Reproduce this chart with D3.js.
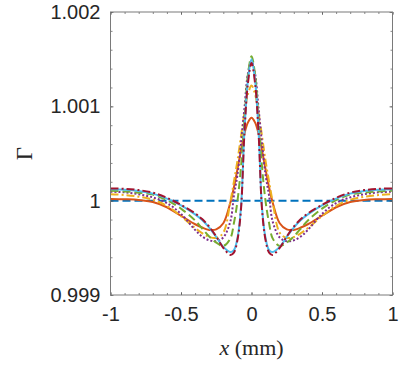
<!DOCTYPE html>
<html>
<head>
<meta charset="utf-8">
<script src="https://cdn.jsdelivr.net/npm/d3@7"></script>
<style>
  html, body { margin: 0; padding: 0; background: #fff; }
  svg { display: block; }
  .tick text { font-family: 'Liberation Sans', Arial, sans-serif; fill: #262626; }
  .lbl { font-family: 'Liberation Serif', 'DejaVu Serif', serif; fill: #262626; }
</style>
</head>
<body>
<script>
// x positions (mm) shared by the curved series
const xs = [-1, -0.9, -0.8, -0.7, -0.6, -0.5, -0.4, -0.35, -0.3, -0.25, -0.2, -0.15, -0.125, -0.1, -0.075, -0.05, -0.025,
  0, 0.025, 0.05, 0.075, 0.1, 0.125, 0.15, 0.2, 0.25, 0.3, 0.35, 0.4, 0.5, 0.6, 0.7, 0.8, 0.9, 1];

const flatX = [-1, 1];
const flatY = [1, 1];

const orangeY = [1.000018, 1.000015, 1.000008, 0.999985, 0.99993, 0.99984, 0.99975, 0.999715, 0.99969, 0.999695, 0.99976, 0.99998, 1.00014, 1.00033, 1.00053, 1.00071, 1.00083,
  1.00088, 1.00083, 1.00071, 1.00053, 1.00033, 1.00014, 0.99998, 0.99976, 0.999695, 0.99969, 0.999715, 0.99975, 0.99984, 0.99993, 0.999985, 1.000008, 1.000015, 1.000018];

const yellowY = [1.000068, 1.00006, 1.000042, 1.00001, 0.999945, 0.999835, 0.99971, 0.999655, 0.999615, 0.999605, 0.99966, 0.99999, 1.0002, 1.00042, 1.00068, 1.00093, 1.00113,
  1.00122, 1.00113, 1.00093, 1.00068, 1.00042, 1.0002, 0.99999, 0.99966, 0.999605, 0.999615, 0.999655, 0.99971, 0.999835, 0.999945, 1.00001, 1.000042, 1.00006, 1.000068];

const purpleY = [1.000095, 1.000088, 1.000068, 1.000035, 0.999975, 0.99986, 0.99969, 0.99962, 0.99958, 0.99957, 0.99961, 0.99978, 1.00005, 1.00027, 1.0006, 1.00098, 1.00135,
  1.00148, 1.00135, 1.00098, 1.0006, 1.00027, 1.00005, 0.99978, 0.99961, 0.99957, 0.99958, 0.99962, 0.99969, 0.99986, 0.999975, 1.000035, 1.000068, 1.000088, 1.000095];

const greenY = [1.000105, 1.000098, 1.000085, 1.000065, 1.000005, 0.999915, 0.99979, 0.999705, 0.99962, 0.999555, 0.99952, 0.9996, 0.99976, 0.99999, 1.00035, 1.00085, 1.00134,
  1.00153, 1.00134, 1.00085, 1.00035, 0.99999, 0.99976, 0.9996, 0.99952, 0.999555, 0.99962, 0.999705, 0.99979, 0.999915, 1.000005, 1.000065, 1.000085, 1.000098, 1.000105];

const cyanY = [1.00012, 1.000116, 1.000102, 1.000075, 1.000022, 0.99995, 0.999855, 0.999795, 0.999715, 0.999615, 0.99951, 0.999455, 0.999475, 0.9996, 0.99992, 1.00074, 1.00128,
  1.0015, 1.00128, 1.00074, 0.99992, 0.9996, 0.999475, 0.999455, 0.99951, 0.999615, 0.999715, 0.999795, 0.999855, 0.99995, 1.000022, 1.000075, 1.000102, 1.000116, 1.00012];

const darkredY = [1.00013, 1.000126, 1.000112, 1.000085, 1.00003, 0.999955, 0.999865, 0.999805, 0.999725, 0.99962, 0.9995, 0.999425, 0.99945, 0.99958, 0.9999, 1.00072, 1.00125,
  1.00146, 1.00125, 1.00072, 0.9999, 0.99958, 0.99945, 0.999425, 0.9995, 0.99962, 0.999725, 0.999805, 0.999865, 0.999955, 1.00003, 1.000085, 1.000112, 1.000126, 1.00013];

const xTicks = [-1, -0.5, 0, 0.5, 1];
const yTicks = [0.999, 1, 1.001, 1.002];

const width = 407;
const height = 370;
const margin = { top: 12, right: 14.5, bottom: 75, left: 110.5 };

const x = d3.scaleLinear()
  .domain([-1, 1])
  .range([margin.left, width - margin.right]);

const y = d3.scaleLinear()
  .domain([0.999, 1.002])
  .range([height - margin.bottom, margin.top]);

const series = [
  { xv: flatX, yv: flatY, color: '#0072BD', dash: '8,4' },
  { xv: xs, yv: orangeY, color: '#D95319', dash: null },
  { xv: xs, yv: yellowY, color: '#EDB120', dash: '8,3,2,3' },
  { xv: xs, yv: purpleY, color: '#7E2F8E', dash: '2,2' },
  { xv: xs, yv: greenY, color: '#77AC30', dash: '8,4' },
  { xv: xs, yv: cyanY, color: '#4DBEEE', dash: null },
  { xv: xs, yv: darkredY, color: '#A2142F', dash: '8,3,2,3' }
];

const line = d3.line()
  .curve(d3.curveCatmullRom.alpha(0.5))
  .x(d => x(d[0]))
  .y(d => y(d[1]));

const fmtX = d => String(d);
const fmtY = d => d === 1 ? '1' : d.toFixed(3);

const svg = d3.select('body')
  .append('svg')
  .attr('width', width)
  .attr('height', height);

const plot = svg.append('g');

plot.append('clipPath')
  .attr('id', 'clip')
  .append('rect')
  .attr('x', margin.left)
  .attr('y', margin.top)
  .attr('width', width - margin.left - margin.right)
  .attr('height', height - margin.top - margin.bottom);

const lines = plot.append('g').attr('clip-path', 'url(#clip)');

series.forEach(s => {
  lines.append('path')
    .datum(s.xv.map((v, i) => [v, s.yv[i]]))
    .attr('fill', 'none')
    .attr('stroke', s.color)
    .attr('stroke-width', 2)
    .attr('stroke-dasharray', s.dash)
    .attr('stroke-linejoin', 'round')
    .attr('d', line);
});

// minor ticks
const xMinor = d3.range(-1, 1.0001, 0.1);
const yMinor = d3.range(0.999, 1.00201, 0.0002);

const tidy = g => {
  g.select('.domain').remove();
  g.selectAll('.tick line').attr('stroke', '#555').attr('stroke-width', 0.7);
};

const minorAxis = (axis, scale, vals, tr) => svg.append('g')
  .attr('transform', tr)
  .call(axis(scale).tickValues(vals).tickSize(-2).tickFormat(''))
  .call(tidy);

minorAxis(d3.axisBottom, x, xMinor, `translate(0,${y.range()[0]})`);
minorAxis(d3.axisTop, x, xMinor, `translate(0,${margin.top})`);
minorAxis(d3.axisLeft, y, yMinor, `translate(${margin.left},0)`);
minorAxis(d3.axisRight, y, yMinor, `translate(${width - margin.right},0)`);

const xAxis = g => g
  .attr('transform', `translate(0,${y.range()[0]})`)
  .call(d3.axisBottom(x).tickValues(xTicks).tickFormat(fmtX).tickSize(-3).tickPadding(12))
  .call(tidy)
  .call(g => g.selectAll('.tick text').attr('font-size', 20));

const yAxis = g => g
  .attr('transform', `translate(${margin.left},0)`)
  .call(d3.axisLeft(y).tickValues(yTicks).tickFormat(fmtY).tickSize(-3).tickPadding(10))
  .call(tidy)
  .call(g => g.selectAll('.tick text').attr('font-size', 20));

svg.append('g').call(xAxis);
svg.append('g').call(yAxis);

svg.append('g')
  .attr('transform', `translate(0,${margin.top})`)
  .call(d3.axisTop(x).tickValues(xTicks).tickFormat('').tickSize(-3))
  .call(tidy);
svg.append('g')
  .attr('transform', `translate(${width - margin.right},0)`)
  .call(d3.axisRight(y).tickValues(yTicks).tickFormat('').tickSize(-3))
  .call(tidy);

// box
svg.append('rect')
  .attr('x', margin.left)
  .attr('y', margin.top)
  .attr('width', width - margin.left - margin.right)
  .attr('height', height - margin.top - margin.bottom)
  .attr('fill', 'none')
  .attr('stroke', '#7a7a7a')
  .attr('stroke-width', 1);

// axis labels
const xl = svg.append('text')
  .attr('class', 'lbl')
  .attr('x', x(0))
  .attr('y', 355)
  .attr('text-anchor', 'middle')
  .attr('font-size', 22);
xl.append('tspan').attr('font-style', 'italic').text('x');
xl.append('tspan').text(' (mm)');

svg.append('text')
  .attr('class', 'lbl')
  .attr('transform', `translate(32,${(margin.top + y.range()[0]) / 2}) rotate(-90)`)
  .attr('text-anchor', 'middle')
  .attr('font-size', 23)
  .text('Γ');
</script>
</body>
</html>
